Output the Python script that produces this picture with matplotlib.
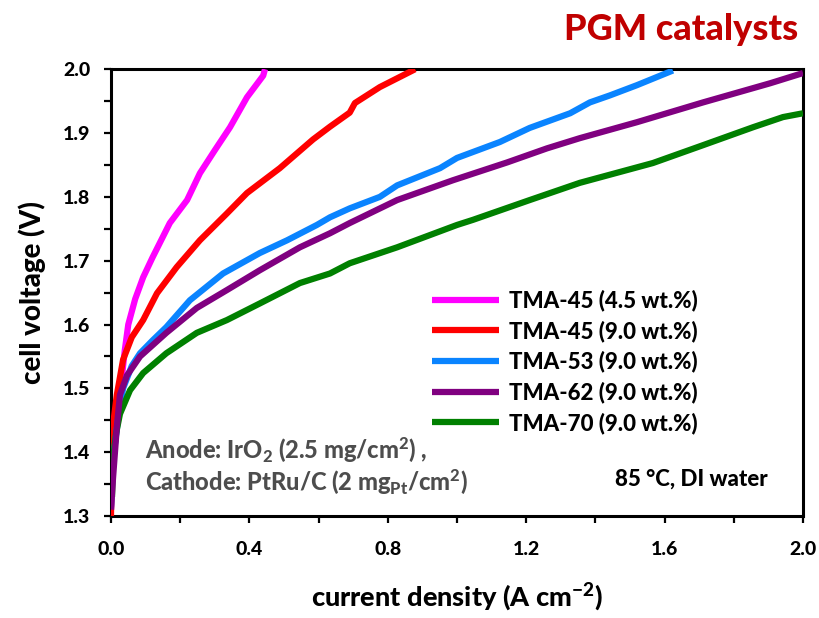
import matplotlib
matplotlib.use('Agg')
import matplotlib.pyplot as plt
from matplotlib.ticker import MultipleLocator, FormatStrFormatter

W = 'black'
plt.rcParams['font.family'] = ['Lato', 'DejaVu Sans']
plt.rcParams['font.weight'] = W
plt.rcParams['axes.labelweight'] = W
plt.rcParams['mathtext.fontset'] = 'custom'
plt.rcParams['mathtext.rm'] = 'Lato:black'
plt.rcParams['mathtext.bf'] = 'Lato:black'
plt.rcParams['mathtext.default'] = 'rm'

# polarization curves: current density (A/cm2), cell voltage (V)
tma45_45_j = [0, 0.006, 0.012, 0.026, 0.04, 0.05, 0.07, 0.093, 0.12, 0.17, 0.22, 0.257, 0.30, 0.344, 0.393, 0.44, 0.445]
tma45_45_v = [1.31, 1.415, 1.44, 1.49, 1.56, 1.60, 1.64, 1.674, 1.705, 1.759, 1.795, 1.837, 1.873, 1.909, 1.956, 1.99, 2.0]

tma45_90_j = [0, 0.003, 0.017, 0.035, 0.06, 0.093, 0.133, 0.19, 0.257, 0.335, 0.393, 0.488, 0.584, 0.633, 0.69, 0.705, 0.777, 0.879]
tma45_90_v = [1.30, 1.43, 1.49, 1.545, 1.58, 1.607, 1.649, 1.69, 1.732, 1.774, 1.806, 1.845, 1.89, 1.91, 1.932, 1.947, 1.972, 2.0]

tma53_j = [0, 0.006, 0.02, 0.035, 0.06, 0.084, 0.12, 0.16, 0.228, 0.324, 0.43, 0.509, 0.595, 0.633, 0.69, 0.777,
           0.827, 0.951, 1.0, 1.124, 1.21, 1.327, 1.384, 1.442, 1.52, 1.624]
tma53_v = [1.314, 1.388, 1.45, 1.50, 1.535, 1.555, 1.575, 1.596, 1.638, 1.68, 1.712, 1.732, 1.756, 1.768, 1.782, 1.80,
           1.818, 1.845, 1.861, 1.886, 1.908, 1.931, 1.948, 1.959, 1.975, 1.998]

tma62_j = [0, 0.006, 0.017, 0.026, 0.046, 0.084, 0.16, 0.248, 0.335, 0.43, 0.546, 0.633, 0.69, 0.827, 0.988,
           1.145, 1.26, 1.355, 1.52, 1.711, 1.905, 2.0]
tma62_v = [1.31, 1.36, 1.44, 1.49, 1.52, 1.55, 1.587, 1.626, 1.654, 1.685, 1.721, 1.743, 1.759, 1.795, 1.826,
           1.854, 1.876, 1.892, 1.917, 1.948, 1.978, 1.994]

tma70_j = [0.003, 0.006, 0.015, 0.026, 0.055, 0.093, 0.16, 0.248, 0.335, 0.43, 0.546, 0.633, 0.69, 0.827, 1.0,
           1.046, 1.21, 1.355, 1.566, 1.711, 1.855, 1.942, 2.0]
tma70_v = [1.33, 1.39, 1.43, 1.46, 1.497, 1.524, 1.555, 1.587, 1.607, 1.633, 1.665, 1.68, 1.696, 1.721, 1.756,
           1.764, 1.795, 1.822, 1.853, 1.881, 1.909, 1.925, 1.931]

series = [
    ('TMA-45 (4.5 wt.%)', tma45_45_j, tma45_45_v, '#FF00FF', 3),
    ('TMA-45 (9.0 wt.%)', tma45_90_j, tma45_90_v, '#FF0000', 3),
    ('TMA-53 (9.0 wt.%)', tma53_j, tma53_v, '#0A84FF', 3),
    ('TMA-62 (9.0 wt.%)', tma62_j, tma62_v, '#800080', 5),
    ('TMA-70 (9.0 wt.%)', tma70_j, tma70_v, '#008000', 4),
]


def do_plot():
    fig = plt.figure(figsize=(8.19, 6.18), dpi=100)
    ax = fig.add_axes([0.1355, 0.165, 0.845, 0.723])

    handles = []
    for name, j, v, color, z in series:
        line, = ax.plot(j, v, '-', color=color, lw=4.5, label=name, zorder=z,
                        solid_capstyle='butt')
        handles.append(line)

    ax.set_xlim(0, 2.0)
    ax.set_ylim(1.3, 2.0)
    ax.xaxis.set_major_locator(MultipleLocator(0.4))
    ax.xaxis.set_minor_locator(MultipleLocator(0.2))
    ax.yaxis.set_major_locator(MultipleLocator(0.1))
    ax.yaxis.set_minor_locator(MultipleLocator(0.05))
    ax.xaxis.set_major_formatter(FormatStrFormatter('%.1f'))
    ax.yaxis.set_major_formatter(FormatStrFormatter('%.1f'))
    ax.tick_params(which='both', direction='out', width=1.6, length=5, labelsize=14)
    ax.tick_params(axis='x', which='major', pad=13)
    ax.tick_params(axis='y', which='major', pad=10)
    for s in ax.spines.values():
        s.set_linewidth(2.2)

    ax.set_ylabel('cell voltage (V)', fontsize=20, fontweight=W, labelpad=12)
    ax.set_xlabel('current density (A cm$^{-2}$)', fontsize=19.5, fontweight=W, labelpad=17)

    ax.legend(handles=handles, loc='upper left', bbox_to_anchor=(0.464, 0.507),
              frameon=False, prop={'size': 16, 'weight': W}, handlelength=3.0,
              handletextpad=0.48, labelspacing=0.4, borderpad=0, borderaxespad=0)

    ax.text(0.049, 0.148, 'Anode: IrO$_2$ (2.5 mg/cm$^2$) ,', transform=ax.transAxes,
            fontsize=17, fontweight=W, color='#4d4d4d', va='center', ha='left')
    ax.text(0.049, 0.076, 'Cathode: PtRu/C (2 mg$_{Pt}$/cm$^2$)', transform=ax.transAxes,
            fontsize=17, fontweight=W, color='#4d4d4d', va='center', ha='left')
    ax.text(0.728, 0.083, '85 °C, DI water', transform=ax.transAxes,
            fontsize=16, fontweight=W, color='black', va='center', ha='left')

    fig.text(0.975, 0.952, 'PGM catalysts', color='#C00000', fontsize=26,
             fontweight=W, ha='right', va='center')

    fig.canvas.draw()
    for lab in ax.get_xticklabels() + ax.get_yticklabels():
        lab.set_fontweight(W)

    fig.savefig('out.png', dpi=100)


if __name__ == '__main__':
    do_plot()
